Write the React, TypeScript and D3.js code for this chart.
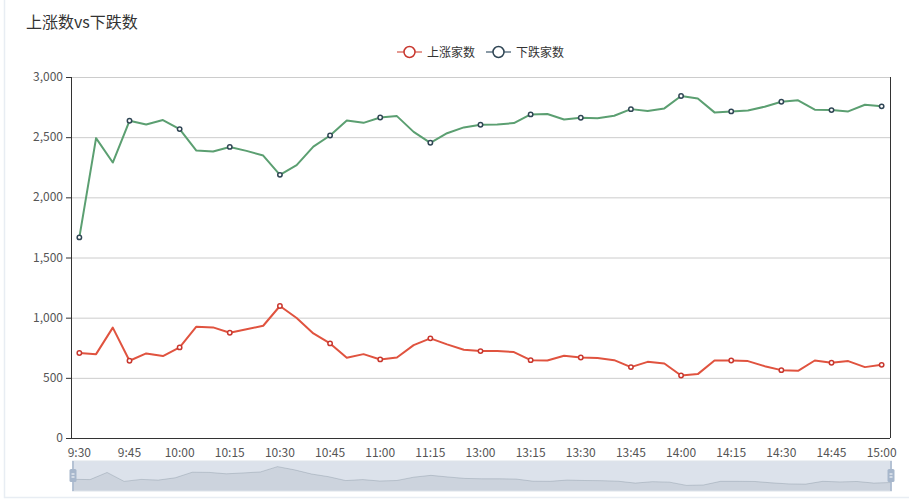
import React from "react";
import * as d3 from "d3";

const morning = ["9:30","9:35","9:40","9:45","9:50","9:55","10:00","10:05","10:10","10:15","10:20","10:25","10:30","10:35","10:40","10:45","10:50","10:55","11:00","11:05","11:10","11:15","11:20","11:25"];
const afternoon = ["13:00","13:05","13:10","13:15","13:20","13:25","13:30","13:35","13:40","13:45","13:50","13:55","14:00","14:05","14:10","14:15","14:20","14:25","14:30","14:35","14:40","14:45","14:50","14:55","15:00"];
const times = [...morning, ...afternoon];

const upCounts = [706,697,917,642,703,681,753,925,919,875,903,933,1097,997,869,786,667,697,653,669,772,828,778,733,722,722,714,647,644,683,669,664,647,589,633,619,519,531,644,644,639,597,564,558,644,625,639,589,608];
const downCounts = [1667,2492,2289,2636,2606,2642,2567,2389,2381,2419,2386,2347,2187,2267,2422,2514,2639,2619,2664,2675,2544,2453,2533,2581,2603,2606,2617,2689,2692,2647,2661,2658,2678,2733,2717,2739,2842,2822,2706,2714,2722,2753,2794,2806,2728,2725,2714,2769,2756];

const yTicks = [0, 500, 1000, 1500, 2000, 2500, 3000];
const title = "上涨数vs下跌数";
const seriesNames = ["上涨家数", "下跌家数"];

const W = 909, H = 501;
const L = 71, R = 890, T = 77, B = 438;
const FONT = "'Microsoft YaHei', 'Noto Sans CJK SC', sans-serif";

export default function App() {
  const x = d3.scaleBand<string>().domain(times).range([L, R]).paddingInner(0).paddingOuter(0);
  const cx = (t: string) => (x(t) as number) + x.bandwidth() / 2;
  const y = d3.scaleLinear().domain([0, 3000]).range([B, T]);
  const fmt = d3.format(",");

  const line = d3.line<number>().x((_, i) => cx(times[i])).y((v) => y(v));
  const upColor = "#e0533f", upItem = "#c8372e";
  const downColor = "#5b9f71", downItem = "#2f4554";

  // data zoom
  const zx0 = 73, zx1 = 891, zy0 = 461, zy1 = 491;
  const zx = d3.scaleLinear().domain([0, times.length - 1]).range([zx0, zx1]);
  const ext = d3.extent(upCounts) as [number, number];
  const off = (ext[1] - ext[0]) * 0.3;
  const zy = d3.scaleLinear().domain([ext[0] - off, ext[1] + off]).range([zy1, zy0]);
  const shadowArea = d3.area<number>().x((_, i) => zx(i)).y0(zy1).y1((v) => zy(v));
  const shadowLine = d3.line<number>().x((_, i) => zx(i)).y((v) => zy(v));

  const legendY = 52;
  const legends = [
    { name: seriesNames[0], x: 397, color: upItem, lc: "#e59a92" },
    { name: seriesNames[1], x: 486, color: downItem, lc: "#8a9aa6" },
  ];

  return (
    <svg width={W} height={H} style={{ position: "absolute", left: 0, top: 0, fontFamily: FONT }}>
      <rect x={0} y={0} width={W} height={H} fill="#fff" />
      <path d={`M4.5,0 V497.5 H${W}`} fill="none" stroke="#e8edf3" strokeWidth={1.5} />
      <text x={26} y={28} fontSize={16} fill="#333">{title}</text>

      {legends.map((l) => (
        <g key={l.name}>
          <line x1={l.x} x2={l.x + 25} y1={legendY} y2={legendY} stroke={l.lc} strokeWidth={2} />
          <circle cx={l.x + 12.5} cy={legendY} r={5.5} fill="#fff" stroke={l.color} strokeWidth={1.5} />
          <text x={l.x + 30} y={legendY + 4.5} fontSize={12} fill="#333">{l.name}</text>
        </g>
      ))}

      {yTicks.map((t) => (
        <g key={t}>
          {t > 0 && <line x1={L} x2={R} y1={y(t) + 0.5} y2={y(t) + 0.5} stroke="#ccc" strokeWidth={1} />}
          <line x1={L - 5} x2={L} y1={y(t) + 0.5} y2={y(t) + 0.5} stroke="#333" />
          <text x={L - 8} y={y(t) + 4} fontSize={12} fill="#555" textAnchor="end">{fmt(t)}</text>
        </g>
      ))}
      <line x1={L + 0.5} x2={L + 0.5} y1={T} y2={B} stroke="#333" />
      <line x1={R + 0.5} x2={R + 0.5} y1={T} y2={B} stroke="#333" />
      <line x1={L} x2={R} y1={B + 0.5} y2={B + 0.5} stroke="#333" />

      {times.map((t, i) => i % 3 === 0 ? (
        <text key={t} x={cx(t)} y={457} fontSize={12} fill="#555" textAnchor="middle">{t}</text>
      ) : null)}

      <path d={line(downCounts) as string} fill="none" stroke={downColor} strokeWidth={2} strokeLinejoin="round" />
      <path d={line(upCounts) as string} fill="none" stroke={upColor} strokeWidth={2} strokeLinejoin="round" />
      {downCounts.map((v, i) => i % 3 === 0 ? (
        <circle key={"d" + i} cx={cx(times[i])} cy={y(v)} r={2.2} fill="#fff" stroke={downItem} strokeWidth={1.5} />
      ) : null)}
      {upCounts.map((v, i) => i % 3 === 0 ? (
        <circle key={"u" + i} cx={cx(times[i])} cy={y(v)} r={2.2} fill="#fff" stroke={upItem} strokeWidth={1.5} />
      ) : null)}

      <rect x={zx0} y={zy0} width={zx1 - zx0} height={zy1 - zy0} fill="rgba(167,183,204,0.4)" />
      <path d={shadowArea(upCounts) as string} fill="rgba(47,69,84,0.09)" />
      <path d={shadowLine(upCounts) as string} fill="none" stroke="rgba(47,69,84,0.3)" strokeWidth={0.6} />
      <rect x={zx0 - 0.5} y={zy0} width={zx1 - zx0 + 1} height={zy1 - zy0} fill="none" stroke="#dde3ea" />
      {[zx0, zx1].map((hx, k) => (
        <g key={k}>
          <line x1={hx} x2={hx} y1={zy0} y2={zy1} stroke="#a7b7cc" strokeWidth={1.5} />
          <rect x={hx - 3.5} y={469} width={7} height={13} rx={1.5} fill="#a7b7cc" />
          <line x1={hx - 1.5} x2={hx + 1.5} y1={474} y2={474} stroke="#fff" strokeWidth={1} />
          <line x1={hx - 1.5} x2={hx + 1.5} y1={477} y2={477} stroke="#fff" strokeWidth={1} />
        </g>
      ))}
    </svg>
  );
}
